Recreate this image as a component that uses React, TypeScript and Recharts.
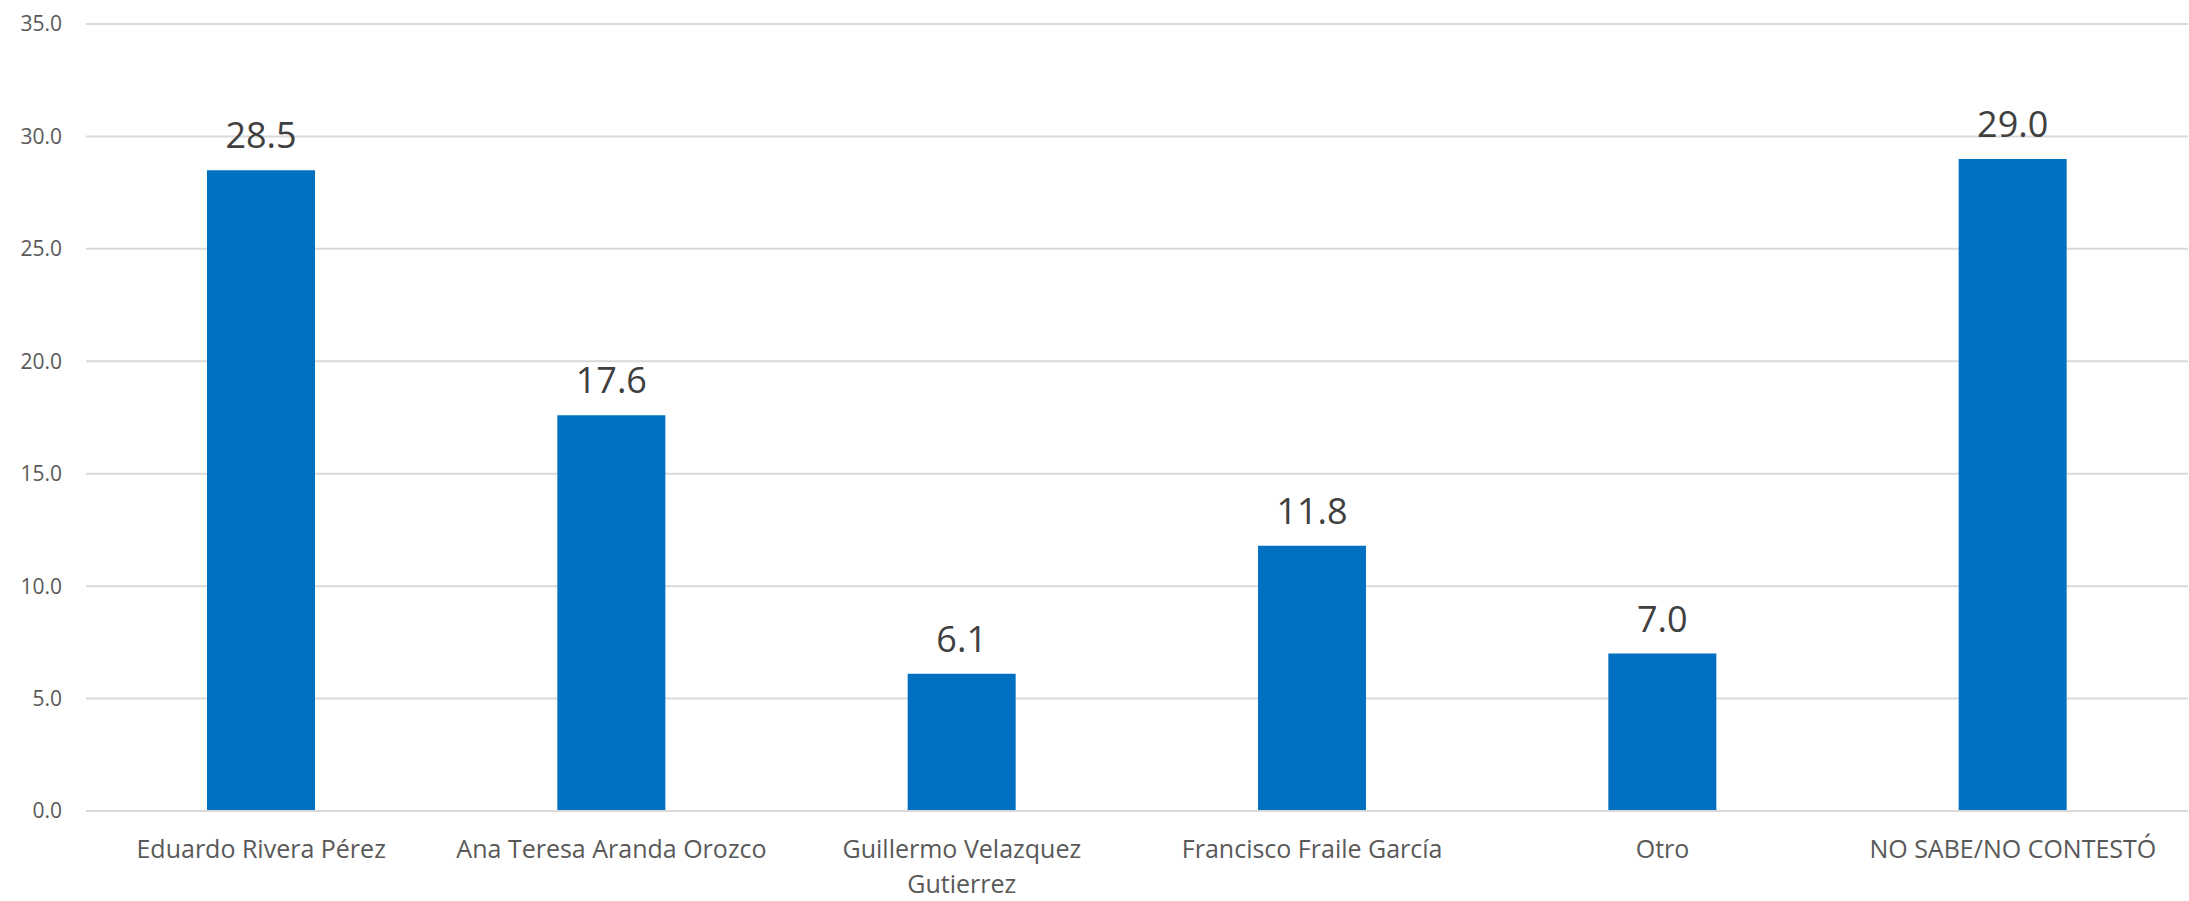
import React from 'react'
import { BarChart, Bar, XAxis, YAxis, CartesianGrid, LabelList } from 'recharts'

const candidates = [
  'Eduardo Rivera Pérez',
  'Ana Teresa Aranda Orozco',
  'Guillermo Velazquez Gutierrez',
  'Francisco Fraile García',
  'Otro',
  'NO SABE/NO CONTESTÓ',
]
const percentages = [28.5, 17.6, 6.1, 11.8, 7.0, 29.0]
const yTicks = [0, 5, 10, 15, 20, 25, 30, 35]

const FONT = '"Open Sans", sans-serif'
const MAX_CHARS = 26

const chartData = candidates.map((name, i) => ({ name, value: percentages[i] }))

// greedy word wrap by character count
function wrapLabel(text: string) {
  const lines: string[] = []
  let current = ''
  text.split(' ').forEach((word) => {
    const next = current ? current + ' ' + word : word
    if (next.length > MAX_CHARS && current) {
      lines.push(current)
      current = word
    } else {
      current = next
    }
  })
  if (current) lines.push(current)
  return lines
}

function CategoryTick(props: any) {
  const { x, y, payload } = props
  const lines = wrapLabel(String(payload.value))
  return (
    <text
      x={x}
      y={y}
      textAnchor="middle"
      fill="#595959"
      fontSize={25}
      fontFamily={FONT}
    >
      {lines.map((line, i) => (
        <tspan key={i} x={x} dy={i === 0 ? '0.71em' : 35}>
          {line}
        </tspan>
      ))}
    </text>
  )
}

export default function App() {
  return (
    <div style={{ position: 'absolute', left: 0, top: 0, background: '#fff' }}>
      <BarChart
        width={2189}
        height={901}
        data={chartData}
        margin={{ top: 24, right: 1, left: 0, bottom: 0 }}
      >
        <CartesianGrid vertical={false} stroke="#D9D9D9" strokeWidth={2} />
        <XAxis
          dataKey="name"
          height={90}
          interval={0}
          tickLine={false}
          tickSize={0}
          tickMargin={29}
          axisLine={{ stroke: '#D9D9D9', strokeWidth: 2 }}
          tick={<CategoryTick />}
        />
        <YAxis
          width={86}
          domain={[0, 35]}
          ticks={yTicks}
          interval={0}
          axisLine={false}
          tickLine={false}
          tickSize={0}
          tickMargin={24}
          tickFormatter={(v: number) => v.toFixed(1)}
          tick={{ fill: '#595959', fontSize: 21, fontFamily: FONT }}
        />
        <Bar dataKey="value" fill="#0070C0" barSize={108} isAnimationActive={false}>
          <LabelList
            dataKey="value"
            position="top"
            offset={22}
            formatter={(v: any) => Number(v).toFixed(1)}
            fill="#404040"
            fontSize={36}
            fontFamily={FONT}
          />
        </Bar>
      </BarChart>
    </div>
  )
}
